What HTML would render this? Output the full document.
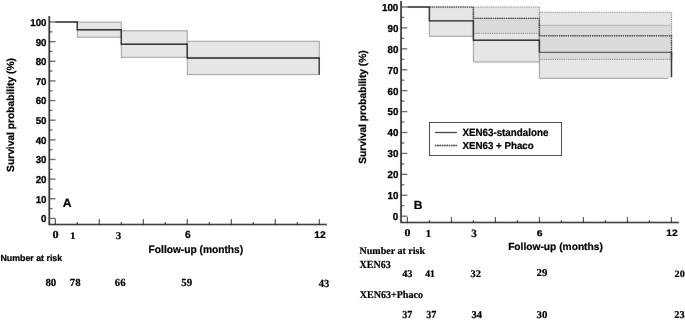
<!DOCTYPE html>
<html><head><meta charset="utf-8"><style>
html,body{margin:0;padding:0;background:#fff;}
body{width:685px;height:320px;overflow:hidden;}
svg{display:block;will-change:transform;}
text{text-rendering:geometricPrecision;}
.b{font-family:"Liberation Sans",sans-serif;font-weight:bold;fill:#000;stroke:#000;stroke-width:0.22px;}
.yl{font-family:"Liberation Sans",sans-serif;font-weight:bold;fill:#000;stroke:#000;stroke-width:0.3px;}
.s{font-family:"Liberation Serif",serif;font-weight:bold;fill:#000;stroke:#000;stroke-width:0.2px;}
</style></head><body>
<svg width="685" height="320" viewBox="0 0 685 320">
<defs><filter id="bl" x="0" y="0" width="685" height="320" filterUnits="userSpaceOnUse"><feConvolveMatrix order="3" kernelMatrix="0.00163 0.03713 0.00163 0.03713 0.84497 0.03713 0.00163 0.03713 0.00163" divisor="1" edgeMode="duplicate" preserveAlpha="true"/></filter></defs>
<g filter="url(#bl)">
<rect width="685" height="320" fill="#fff"/>
<line x1="49.3" y1="16" x2="49.3" y2="225.1" stroke="#1a1a1a" stroke-width="1.7"/>
<line x1="48.9" y1="224.5" x2="327" y2="224.5" stroke="#1a1a1a" stroke-width="1.4"/>
<line x1="49.5" y1="218.4" x2="55.5" y2="218.4" stroke="#555" stroke-width="1.25"/>
<line x1="49.5" y1="208.58" x2="52.5" y2="208.58" stroke="#555" stroke-width="1.25"/>
<line x1="49.5" y1="198.76" x2="55.5" y2="198.76" stroke="#555" stroke-width="1.25"/>
<line x1="49.5" y1="188.94" x2="52.5" y2="188.94" stroke="#555" stroke-width="1.25"/>
<line x1="49.5" y1="179.12" x2="55.5" y2="179.12" stroke="#555" stroke-width="1.25"/>
<line x1="49.5" y1="169.3" x2="52.5" y2="169.3" stroke="#555" stroke-width="1.25"/>
<line x1="49.5" y1="159.48" x2="55.5" y2="159.48" stroke="#555" stroke-width="1.25"/>
<line x1="49.5" y1="149.66" x2="52.5" y2="149.66" stroke="#555" stroke-width="1.25"/>
<line x1="49.5" y1="139.84" x2="55.5" y2="139.84" stroke="#555" stroke-width="1.25"/>
<line x1="49.5" y1="130.02" x2="52.5" y2="130.02" stroke="#555" stroke-width="1.25"/>
<line x1="49.5" y1="120.2" x2="55.5" y2="120.2" stroke="#555" stroke-width="1.25"/>
<line x1="49.5" y1="110.38" x2="52.5" y2="110.38" stroke="#555" stroke-width="1.25"/>
<line x1="49.5" y1="100.56" x2="55.5" y2="100.56" stroke="#555" stroke-width="1.25"/>
<line x1="49.5" y1="90.74" x2="52.5" y2="90.74" stroke="#555" stroke-width="1.25"/>
<line x1="49.5" y1="80.92" x2="55.5" y2="80.92" stroke="#555" stroke-width="1.25"/>
<line x1="49.5" y1="71.1" x2="52.5" y2="71.1" stroke="#555" stroke-width="1.25"/>
<line x1="49.5" y1="61.28" x2="55.5" y2="61.28" stroke="#555" stroke-width="1.25"/>
<line x1="49.5" y1="51.46" x2="52.5" y2="51.46" stroke="#555" stroke-width="1.25"/>
<line x1="49.5" y1="41.64" x2="55.5" y2="41.64" stroke="#555" stroke-width="1.25"/>
<line x1="49.5" y1="31.82" x2="52.5" y2="31.82" stroke="#555" stroke-width="1.25"/>
<line x1="49.5" y1="22" x2="55.5" y2="22" stroke="#555" stroke-width="1.25"/>
<line x1="55.3" y1="224.5" x2="55.3" y2="219" stroke="#1a1a1a" stroke-width="1"/>
<line x1="77.3" y1="224.5" x2="77.3" y2="222" stroke="#1a1a1a" stroke-width="1"/>
<line x1="99.3" y1="224.5" x2="99.3" y2="219" stroke="#1a1a1a" stroke-width="1"/>
<line x1="121.3" y1="224.5" x2="121.3" y2="222" stroke="#1a1a1a" stroke-width="1"/>
<line x1="143.3" y1="224.5" x2="143.3" y2="219" stroke="#1a1a1a" stroke-width="1"/>
<line x1="165.3" y1="224.5" x2="165.3" y2="222" stroke="#1a1a1a" stroke-width="1"/>
<line x1="187.3" y1="224.5" x2="187.3" y2="219" stroke="#1a1a1a" stroke-width="1"/>
<line x1="209.3" y1="224.5" x2="209.3" y2="222" stroke="#1a1a1a" stroke-width="1"/>
<line x1="231.3" y1="224.5" x2="231.3" y2="219" stroke="#1a1a1a" stroke-width="1"/>
<line x1="253.3" y1="224.5" x2="253.3" y2="222" stroke="#1a1a1a" stroke-width="1"/>
<line x1="275.3" y1="224.5" x2="275.3" y2="219" stroke="#1a1a1a" stroke-width="1"/>
<line x1="297.3" y1="224.5" x2="297.3" y2="222" stroke="#1a1a1a" stroke-width="1"/>
<line x1="319.3" y1="224.5" x2="319.3" y2="219" stroke="#1a1a1a" stroke-width="1"/>
<line x1="401.1" y1="1" x2="401.1" y2="223.1" stroke="#1a1a1a" stroke-width="1.7"/>
<line x1="400.7" y1="222.5" x2="679" y2="222.5" stroke="#1a1a1a" stroke-width="1.4"/>
<line x1="401.3" y1="216.2" x2="407.3" y2="216.2" stroke="#555" stroke-width="1.25"/>
<line x1="401.3" y1="205.74" x2="404.3" y2="205.74" stroke="#555" stroke-width="1.25"/>
<line x1="401.3" y1="195.28" x2="407.3" y2="195.28" stroke="#555" stroke-width="1.25"/>
<line x1="401.3" y1="184.82" x2="404.3" y2="184.82" stroke="#555" stroke-width="1.25"/>
<line x1="401.3" y1="174.36" x2="407.3" y2="174.36" stroke="#555" stroke-width="1.25"/>
<line x1="401.3" y1="163.9" x2="404.3" y2="163.9" stroke="#555" stroke-width="1.25"/>
<line x1="401.3" y1="153.44" x2="407.3" y2="153.44" stroke="#555" stroke-width="1.25"/>
<line x1="401.3" y1="142.98" x2="404.3" y2="142.98" stroke="#555" stroke-width="1.25"/>
<line x1="401.3" y1="132.52" x2="407.3" y2="132.52" stroke="#555" stroke-width="1.25"/>
<line x1="401.3" y1="122.06" x2="404.3" y2="122.06" stroke="#555" stroke-width="1.25"/>
<line x1="401.3" y1="111.6" x2="407.3" y2="111.6" stroke="#555" stroke-width="1.25"/>
<line x1="401.3" y1="101.14" x2="404.3" y2="101.14" stroke="#555" stroke-width="1.25"/>
<line x1="401.3" y1="90.68" x2="407.3" y2="90.68" stroke="#555" stroke-width="1.25"/>
<line x1="401.3" y1="80.22" x2="404.3" y2="80.22" stroke="#555" stroke-width="1.25"/>
<line x1="401.3" y1="69.76" x2="407.3" y2="69.76" stroke="#555" stroke-width="1.25"/>
<line x1="401.3" y1="59.3" x2="404.3" y2="59.3" stroke="#555" stroke-width="1.25"/>
<line x1="401.3" y1="48.84" x2="407.3" y2="48.84" stroke="#555" stroke-width="1.25"/>
<line x1="401.3" y1="38.38" x2="404.3" y2="38.38" stroke="#555" stroke-width="1.25"/>
<line x1="401.3" y1="27.92" x2="407.3" y2="27.92" stroke="#555" stroke-width="1.25"/>
<line x1="401.3" y1="17.46" x2="404.3" y2="17.46" stroke="#555" stroke-width="1.25"/>
<line x1="401.3" y1="7" x2="407.3" y2="7" stroke="#555" stroke-width="1.25"/>
<line x1="407.4" y1="222.5" x2="407.4" y2="217" stroke="#1a1a1a" stroke-width="1"/>
<line x1="429.4" y1="222.5" x2="429.4" y2="220" stroke="#1a1a1a" stroke-width="1"/>
<line x1="451.4" y1="222.5" x2="451.4" y2="217" stroke="#1a1a1a" stroke-width="1"/>
<line x1="473.4" y1="222.5" x2="473.4" y2="220" stroke="#1a1a1a" stroke-width="1"/>
<line x1="495.4" y1="222.5" x2="495.4" y2="217" stroke="#1a1a1a" stroke-width="1"/>
<line x1="517.4" y1="222.5" x2="517.4" y2="220" stroke="#1a1a1a" stroke-width="1"/>
<line x1="539.4" y1="222.5" x2="539.4" y2="217" stroke="#1a1a1a" stroke-width="1"/>
<line x1="561.4" y1="222.5" x2="561.4" y2="220" stroke="#1a1a1a" stroke-width="1"/>
<line x1="583.4" y1="222.5" x2="583.4" y2="217" stroke="#1a1a1a" stroke-width="1"/>
<line x1="605.4" y1="222.5" x2="605.4" y2="220" stroke="#1a1a1a" stroke-width="1"/>
<line x1="627.4" y1="222.5" x2="627.4" y2="217" stroke="#1a1a1a" stroke-width="1"/>
<line x1="649.4" y1="222.5" x2="649.4" y2="220" stroke="#1a1a1a" stroke-width="1"/>
<line x1="671.4" y1="222.5" x2="671.4" y2="217" stroke="#1a1a1a" stroke-width="1"/>
<rect x="77.3" y="22.1" width="44" height="15.1" fill="#e6e6e6" stroke="#9a9a9a" stroke-width="1"/>
<rect x="121.3" y="30.8" width="66" height="26.5" fill="#e6e6e6" stroke="#9a9a9a" stroke-width="1"/>
<rect x="187.3" y="41.3" width="132" height="33.3" fill="#e6e6e6" stroke="#9a9a9a" stroke-width="1"/>
<path d="M55.3,22 H77.3 V29.7 H121.3 V44.2 H187.3 V57.95 H319.3 V74.6" fill="none" stroke="#111" stroke-width="1.35"/>
<rect x="429.4" y="7" width="44" height="29.3" fill="#cfcfcf" fill-opacity="0.52"/>
<rect x="473.4" y="18.4" width="66" height="43.6" fill="#cfcfcf" fill-opacity="0.52"/>
<rect x="539.4" y="25.35" width="131.9" height="52.95" fill="#cfcfcf" fill-opacity="0.52"/>
<path d="M429.4,7 V36.3 H473.4 V7 M473.4,18.4 V62 H539.4 V18.4 H473.4 M539.4,25.35 V78.3 H668.2 M539.4,25.35 H671.3" fill="none" stroke="#9a9a9a" stroke-width="1"/>
<rect x="473.4" y="7" width="66" height="26.4" fill="#cfcfcf" fill-opacity="0.52"/>
<rect x="539.4" y="12.3" width="132.2" height="47.1" fill="#cfcfcf" fill-opacity="0.52"/>
<rect x="473.4" y="7" width="66" height="26.4" fill="none" stroke="#7a7a7a" stroke-width="0.9" stroke-dasharray="1.3,0.9"/>
<rect x="539.4" y="12.3" width="132.2" height="47.1" fill="none" stroke="#7a7a7a" stroke-width="0.9" stroke-dasharray="1.3,0.9"/>
<path d="M407.4,7 H429.4 V20.9 H473.4 V40.3 H539.4 V52.4" fill="none" stroke="#111" stroke-width="1.4"/>
<path d="M539.4,52.4 H671" fill="none" stroke="#555" stroke-width="1.2"/>
<path d="M671.5,52 V77.2" fill="none" stroke="#111" stroke-width="1.4"/>
<path d="M429.4,7 H473.4 V18.4 H539.4 V35.8 H671.5 V60" fill="none" stroke="#2a2a2a" stroke-width="1.4" stroke-dasharray="1.3,0.9"/>
<rect x="429.5" y="122.5" width="132" height="33" fill="#fff" stroke="#111" stroke-width="1"/>
<line x1="434.9" y1="132.5" x2="456.8" y2="132.5" stroke="#000" stroke-width="1.2"/>
<line x1="434.9" y1="145.5" x2="456.8" y2="145.5" stroke="#000" stroke-width="1.3" stroke-dasharray="1.5,0.8"/>
</g>
<text transform="translate(41.105,222.3) scale(0.97,1)" class="yl" style="font-size:10px">0</text>
<text transform="translate(35.721,202.66) scale(0.97,1)" class="yl" style="font-size:10px">10</text>
<text transform="translate(35.721,183.02) scale(0.97,1)" class="yl" style="font-size:10px">20</text>
<text transform="translate(35.721,163.38) scale(0.97,1)" class="yl" style="font-size:10px">30</text>
<text transform="translate(35.721,143.74) scale(0.97,1)" class="yl" style="font-size:10px">40</text>
<text transform="translate(35.721,124.1) scale(0.97,1)" class="yl" style="font-size:10px">50</text>
<text transform="translate(35.721,104.46) scale(0.97,1)" class="yl" style="font-size:10px">60</text>
<text transform="translate(35.721,84.82) scale(0.97,1)" class="yl" style="font-size:10px">70</text>
<text transform="translate(35.721,65.18) scale(0.97,1)" class="yl" style="font-size:10px">80</text>
<text transform="translate(35.721,45.54) scale(0.97,1)" class="yl" style="font-size:10px">90</text>
<text transform="translate(30.289,25.9) scale(0.97,1)" class="yl" style="font-size:10px">100</text>
<text transform="translate(392.869,220.025) scale(0.97,1)" class="yl" style="font-size:10.071px">0</text>
<text transform="translate(387.447,199.105) scale(0.97,1)" class="yl" style="font-size:10.071px">10</text>
<text transform="translate(387.447,178.185) scale(0.97,1)" class="yl" style="font-size:10.071px">20</text>
<text transform="translate(387.447,157.265) scale(0.97,1)" class="yl" style="font-size:10.071px">30</text>
<text transform="translate(387.447,136.345) scale(0.97,1)" class="yl" style="font-size:10.071px">40</text>
<text transform="translate(387.447,115.425) scale(0.97,1)" class="yl" style="font-size:10.071px">50</text>
<text transform="translate(387.447,94.505) scale(0.97,1)" class="yl" style="font-size:10.071px">60</text>
<text transform="translate(387.447,73.585) scale(0.97,1)" class="yl" style="font-size:10.071px">70</text>
<text transform="translate(387.447,52.665) scale(0.97,1)" class="yl" style="font-size:10.071px">80</text>
<text transform="translate(387.447,31.745) scale(0.97,1)" class="yl" style="font-size:10.071px">90</text>
<text transform="translate(381.976,10.825) scale(0.97,1)" class="yl" style="font-size:10.071px">100</text>
<text transform="translate(62.692,207) scale(1.022,1)" class="b" style="font-size:12.044px">A</text>
<text transform="translate(413.722,208.9) scale(1.025,1)" class="b" style="font-size:11.679px">B</text>
<text transform="translate(148.596,253.48) scale(0.944,1)" class="b" style="font-size:10.818px">Follow-up (months)</text>
<text transform="translate(508.136,250.1) scale(0.993,1)" class="b" style="font-size:10.292px">Follow-up (months)</text>
<text transform="translate(52.61,238.4) scale(1.148,1)" class="s" style="font-size:10.677px">0</text>
<text transform="translate(70.114,239) scale(1.108,1)" class="s" style="font-size:10px">1</text>
<text transform="translate(115.858,239) scale(1.073,1)" class="s" style="font-size:10.303px">3</text>
<text transform="translate(184.939,238.3) scale(0.989,1)" class="b" style="font-size:10.429px">6</text>
<text transform="translate(314.334,238.2) scale(1.055,1)" class="b" style="font-size:9.714px">12</text>
<text transform="translate(404.424,236) scale(1.164,1)" class="s" style="font-size:10.226px">0</text>
<text transform="translate(425.735,237) scale(1.005,1)" class="s" style="font-size:10.758px">1</text>
<text transform="translate(471.358,237) scale(0.973,1)" class="s" style="font-size:11.364px">3</text>
<text transform="translate(536.632,236) scale(1.291,1)" class="b" style="font-size:8.143px">6</text>
<text transform="translate(666.334,236) scale(1.087,1)" class="b" style="font-size:9.429px">12</text>
<text transform="translate(0.426,260.7) scale(0.992,1)" class="b" style="font-size:8.905px">Number at risk</text>
<text transform="translate(45.418,286.3) scale(1.008,1)" class="s" style="font-size:10.827px">80</text>
<text transform="translate(69.808,286.3) scale(0.995,1)" class="s" style="font-size:10.827px">78</text>
<text transform="translate(114.822,286.3) scale(0.99,1)" class="s" style="font-size:10.909px">66</text>
<text transform="translate(181.363,286.3)" class="s" style="font-size:10.909px">59</text>
<text transform="translate(318.742,287.2) scale(0.965,1)" class="s" style="font-size:10.909px">43</text>
<text transform="translate(359.5,253.75) scale(1.002,1)" class="s" style="font-size:10px">Number at risk</text>
<text transform="translate(359.5,268.3) scale(0.931,1)" class="s" style="font-size:10.763px">XEN63</text>
<text transform="translate(359.699,297.8) scale(0.969,1)" class="s" style="font-size:10.382px">XEN63+Phaco</text>
<text transform="translate(402.144,276.9) scale(1.027,1)" class="s" style="font-size:10.152px">43</text>
<text transform="translate(425.154,276.9) scale(0.959,1)" class="s" style="font-size:10.152px">41</text>
<text transform="translate(470.48,276.9) scale(1.034,1)" class="s" style="font-size:10.152px">32</text>
<text transform="translate(536.568,276.1) scale(1.034,1)" class="s" style="font-size:10.455px">29</text>
<text transform="translate(674.591,276.7) scale(1.062,1)" class="s" style="font-size:9.624px">20</text>
<text transform="translate(402.198,318.2) scale(0.935,1)" class="s" style="font-size:10.758px">37</text>
<text transform="translate(426.194,318.2) scale(0.944,1)" class="s" style="font-size:10.758px">37</text>
<text transform="translate(471.379,318.2) scale(1.007,1)" class="s" style="font-size:10.455px">34</text>
<text transform="translate(536.565,318.2) scale(1.048,1)" class="s" style="font-size:10.376px">30</text>
<text transform="translate(674.285,318.2) scale(0.993,1)" class="s" style="font-size:10.455px">23</text>
<text transform="translate(462.402,135.8) scale(0.932,1)" class="b" style="font-size:10.511px">XEN63-standalone</text>
<text transform="translate(462.402,149.1) scale(0.97,1)" class="b" style="font-size:10.073px">XEN63 + Phaco</text>
<text transform="translate(13.75,171.908) rotate(-90) scale(0.992,1)" class="b" style="font-size:10.345px">Survival probability (%)</text>
<text transform="translate(365.6,163.807) rotate(-90) scale(0.989,1)" class="b" style="font-size:10.345px">Survival probability (%)</text>
</svg>
</body></html>
